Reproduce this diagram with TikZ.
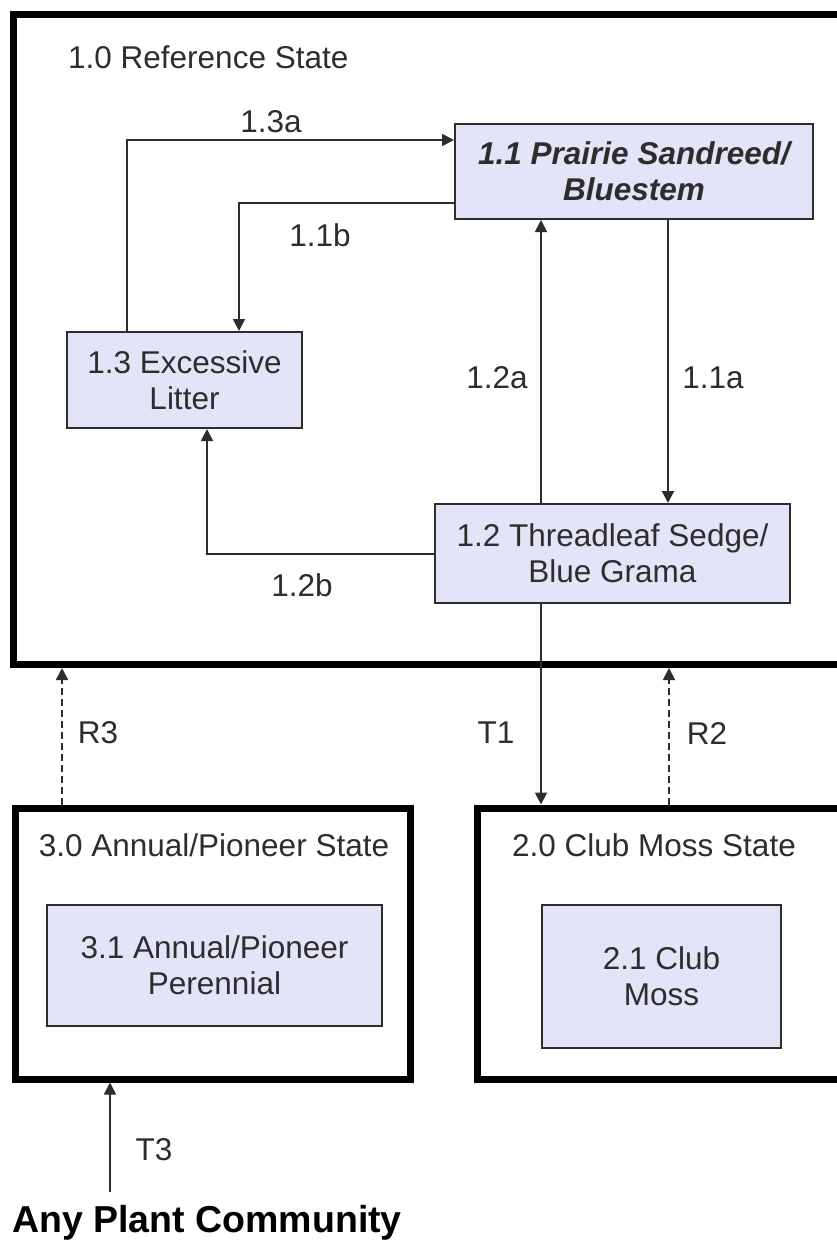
\documentclass[tikz,border=0pt]{standalone}
\usepackage{fontspec}
\setmainfont{Liberation Sans}
\usetikzlibrary{arrows.meta}
\definecolor{plantfill}{RGB}{228,228,248}
\definecolor{ink}{RGB}{45,45,45}
\newcommand{\stmfont}{\fontsize{31.5}{36}\selectfont}

\begin{document}
\begin{tikzpicture}[x=1pt, y=-1pt, >={Triangle[length=12pt,width=12pt]},
  state/.style={draw=black, line width=7pt, inner sep=0pt},
  plant/.style={draw=ink, line width=2pt, fill=plantfill, align=center, text=ink, inner sep=0pt, font=\stmfont},
  title/.style={text=ink, inner sep=0pt, font=\stmfont},
  tlabel/.style={text=ink, inner sep=0pt, font=\stmfont},
  link/.style={draw=ink, line width=1.8pt, ->},
  restore/.style={link, dash pattern=on 7pt off 4pt}]
\fill[white] (0,0) rectangle (837,1247);
\useasboundingbox (0,0) rectangle (837,1247);

% states
\node[state, minimum width=856.5pt, minimum height=649.5pt] (ref) at (441.75,339.75) {};
\node[state, minimum width=395pt, minimum height=271pt] (ann) at (212.5,943.5) {};
\node[state, minimum width=393pt, minimum height=271pt] (club) at (673.5,943.5) {};
\node[title, anchor=west] (reft) at (68,57) {1.0 Reference State};
\node[title] (annt) at (214,845) {3.0 Annual/Pioneer State};
\node[title] (clubt) at (654,845) {2.0 Club Moss State};

% plant communities
\node[plant, minimum width=358pt, minimum height=95pt, font=\stmfont\bfseries\itshape] (psb) at (634,171.5) {1.1 Prairie Sandreed/\\Bluestem};
\node[plant, minimum width=235pt, minimum height=96pt] (lit) at (184.5,380) {1.3 Excessive\\Litter};
\node[plant, minimum width=355pt, minimum height=99pt] (tbg) at (612.5,553.5) {1.2 Threadleaf Sedge/\\Blue Grama};
\node[plant, minimum width=335pt, minimum height=121pt] (app) at (214.5,965.5) {3.1 Annual/Pioneer\\Perennial};
\node[plant, minimum width=239pt, minimum height=143pt] (cm) at (661.5,976.5) {2.1 Club\\Moss};

% pathways
\draw[link] (lit.north -| 127,0) |- (psb.west |- 0,140);
\draw[link] (psb.west |- 0,203) -| (lit.north -| 239,0);
\draw[link] (tbg.north -| 541,0) -- (psb.south -| 541,0);
\draw[link] (psb.south -| 668,0) -- (tbg.north -| 668,0);
\draw[link] (tbg.west |- 0,554) -| (lit.south -| 207,0);
\node[tlabel] (l13a) at (271,122) {1.3a};
\node[tlabel] (l11b) at (320,235) {1.1b};
\node[tlabel] (l12a) at (497,378) {1.2a};
\node[tlabel] (l11a) at (713,378) {1.1a};
\node[tlabel] (l12b) at (302,585) {1.2b};

% transitions and restorations
\draw[link] (tbg.south -| 541,0) -- (club.north -| 541,0);
\draw[restore] (ann.north -| 62,0) -- (ref.south -| 62,0);
\draw[restore] (club.north -| 669,0) -- (ref.south -| 669,0);
\node[tlabel] (lr3) at (98,733) {R3};
\node[tlabel] (lt1) at (496,733) {T1};
\node[tlabel] (lr2) at (707,733) {R2};

\coordinate (src) at (110,1192);
\draw[link] (src) -- (ann.south -| src);
\node[tlabel] (lt3) at (154,1150) {T3};
\node[text=black, inner sep=0pt, anchor=west, font=\fontsize{37.5}{40}\selectfont\bfseries] (any) at (12,1223) {Any Plant Community};
\end{tikzpicture}
\end{document}
